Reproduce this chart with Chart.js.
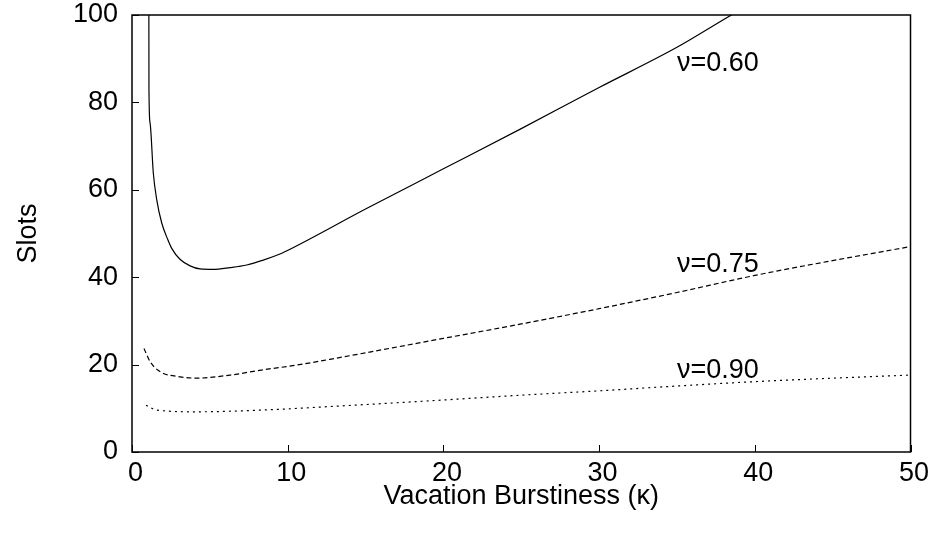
<!DOCTYPE html>
<html lang="en">
<head>
    <meta charset="UTF-8">
    <title>Slots vs Vacation Burstiness</title>
    <script src="https://cdn.jsdelivr.net/npm/chart.js"></script>
    <style>
        html, body { margin: 0; padding: 0; background: #fff; }
        #wrap { width: 933px; height: 537px; }
    </style>
</head>
<body>
    <div id="wrap"><canvas id="slotsChart" width="933" height="537"></canvas></div>

    <script>
        // kappa (x) and slots (y), one pair of arrays per curve
        const kappa60 = [1.08, 1.09, 1.16, 1.37, 1.59, 1.91, 2.31, 2.55, 3.08, 3.73, 4.37, 5.22, 6.29, 7.37, 8.43, 9.5, 10.15, 15, 20, 25, 30, 35, 38.5, 40];
        const slots60 = [110, 82.8, 75.3, 63.8, 57.7, 52.4, 48.5, 46.6, 44.1, 42.6, 41.9, 41.8, 42.2, 42.8, 43.9, 45.3, 46.4, 55.6, 64.8, 74, 83.4, 92.6, 100, 103];

        const kappa75 = [0.77, 1.16, 1.8, 3.1, 4.15, 6.3, 8.4, 10.6, 12.7, 20, 25, 30, 35, 40, 45, 50];
        const slots75 = [23.7, 20.7, 18.4, 17.2, 16.9, 17.6, 18.8, 19.9, 21.2, 26, 29.3, 32.8, 36.5, 40.4, 43.8, 47];

        const kappa90 = [0.9, 1.58, 4.15, 8.4, 12.7, 20, 25, 30, 35, 40, 45, 50];
        const slots90 = [10.7, 9.6, 9.2, 9.6, 10.4, 11.9, 13, 14, 15.1, 16.1, 16.9, 17.6];

        const curveLabels = ['\u03bd=0.60', '\u03bd=0.75', '\u03bd=0.90'];
        const labelKappa = [35, 35, 35];
        const labelSlots = [89, 43, 18.6];

        const xTicks = [0, 10, 20, 30, 40, 50];
        const yTicks = [0, 20, 40, 60, 80, 100];

        const FONT = 'Liberation Sans, Arial, sans-serif';

        function toPoints(xs, ys) {
            return xs.map((x, i) => ({ x: x, y: ys[i] }));
        }

        // frame, inward ticks on left/bottom, curve labels
        const framePlugin = {
            id: 'frame',
            afterDraw(chart) {
                const ctx = chart.ctx;
                const area = chart.chartArea;
                const xs = chart.scales.x;
                const ys = chart.scales.y;
                ctx.save();
                ctx.strokeStyle = '#000';
                ctx.lineWidth = 1.5;
                ctx.strokeRect(area.left, area.top, area.right - area.left, area.bottom - area.top);
                ctx.lineWidth = 1;
                ctx.beginPath();
                xTicks.forEach(v => {
                    const px = Math.round(xs.getPixelForValue(v)) + 0.5;
                    ctx.moveTo(px, area.bottom);
                    ctx.lineTo(px, area.bottom - 7);
                });
                yTicks.forEach(v => {
                    const py = Math.round(ys.getPixelForValue(v)) + 0.5;
                    ctx.moveTo(area.left, py);
                    ctx.lineTo(area.left + 7, py);
                });
                ctx.stroke();

                ctx.fillStyle = '#000';
                ctx.font = '27px ' + FONT;
                ctx.textAlign = 'left';
                ctx.textBaseline = 'middle';
                curveLabels.forEach((t, i) => {
                    ctx.fillText(t, xs.getPixelForValue(labelKappa[i]), ys.getPixelForValue(labelSlots[i]));
                });
                ctx.restore();
            }
        };

        const lineStyle = {
            borderColor: '#000',
            borderWidth: 1.2,
            pointRadius: 0,
            fill: false,
            cubicInterpolationMode: 'monotone'
        };

        new Chart(document.getElementById('slotsChart'), {
            type: 'line',
            data: {
                datasets: [
                    Object.assign({ label: curveLabels[0], data: toPoints(kappa60, slots60) }, lineStyle),
                    Object.assign({ label: curveLabels[1], data: toPoints(kappa75, slots75), borderDash: [5, 3] }, lineStyle),
                    Object.assign({ label: curveLabels[2], data: toPoints(kappa90, slots90), borderDash: [2, 4] }, lineStyle)
                ]
            },
            options: {
                responsive: false,
                animation: false,
                layout: { padding: { left: 0, right: 22.5, top: 15, bottom: 0 } },
                plugins: {
                    legend: { display: false },
                    tooltip: { enabled: false }
                },
                scales: {
                    x: {
                        type: 'linear',
                        min: 0,
                        max: 50,
                        afterFit(scale) {
                            scale.height = 85;
                            scale.paddingLeft = 0;
                            scale.paddingRight = 0;
                        },
                        afterBuildTicks(scale) { scale.ticks = xTicks.map(v => ({ value: v })); },
                        grid: { display: false, drawTicks: false },
                        border: { display: false },
                        ticks: { color: '#000', padding: 5, labelOffset: 3.5, font: { family: FONT, size: 27 } },
                        title: {
                            display: true,
                            text: 'Vacation Burstiness (\u03ba)',
                            color: '#000',
                            font: { family: FONT, size: 27 },
                            padding: { top: 0, bottom: 24 }
                        }
                    },
                    y: {
                        type: 'linear',
                        min: 0,
                        max: 100,
                        afterFit(scale) {
                            scale.width = 132;
                            scale.paddingTop = 0;
                            scale.paddingBottom = 0;
                        },
                        afterBuildTicks(scale) { scale.ticks = yTicks.map(v => ({ value: v })); },
                        grid: { display: false, drawTicks: false },
                        border: { display: false },
                        ticks: { color: '#000', padding: 14, font: { family: FONT, size: 27 } },
                        title: {
                            display: true,
                            text: 'Slots',
                            color: '#000',
                            font: { family: FONT, size: 27 },
                            padding: { top: 12, bottom: 0 }
                        }
                    }
                }
            },
            plugins: [framePlugin]
        });
    </script>
</body>
</html>
